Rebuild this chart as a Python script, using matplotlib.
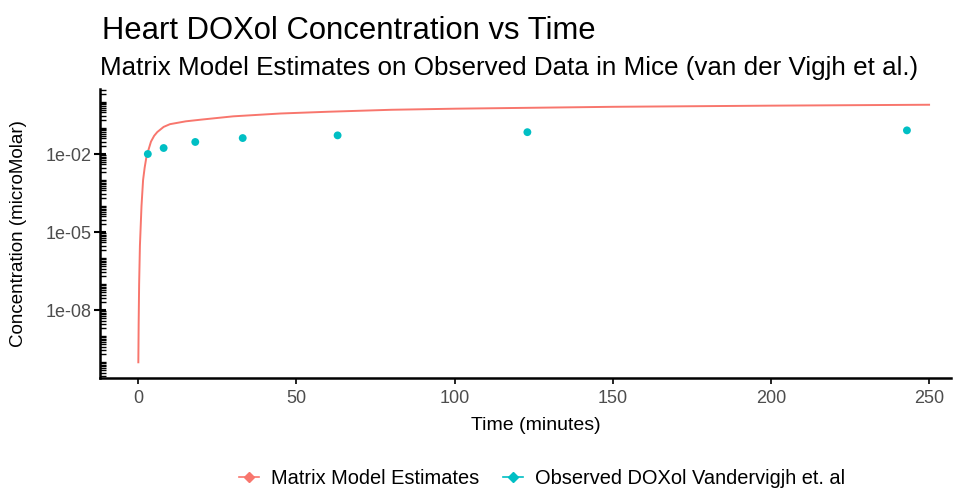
import numpy as np
import matplotlib
matplotlib.use("Agg")
import matplotlib.pyplot as plt
from matplotlib.lines import Line2D
from matplotlib.ticker import LogLocator, NullFormatter, FixedLocator, FuncFormatter

plt.rcParams['font.family'] = ['Liberation Sans', 'DejaVu Sans']

# model curve (Matrix Model Estimates)
model_t = [0, 0.1, 0.25, 0.5, 1, 1.5, 2, 2.5, 3, 4, 5, 6, 8, 10, 15, 20, 30, 45, 60, 80, 100, 150, 200, 250]
model_c = [1e-10, 3e-9, 1e-7, 3e-6, 1e-4, 1e-3, 3e-3, 7e-3, 0.012, 0.03, 0.05, 0.07, 0.11, 0.14,
           0.18, 0.21, 0.28, 0.36, 0.42, 0.5, 0.55, 0.65, 0.72, 0.78]

# observed data (Vandervigjh et al.)
obs_t = [3, 8, 18, 33, 63, 123, 243]
obs_c = [0.010, 0.017, 0.029, 0.041, 0.052, 0.069, 0.081]

red = '#F8766D'
cyan = '#00BFC4'

fig = plt.figure(figsize=(9.56, 4.94), dpi=100)
ax = fig.add_axes([0.105, 0.235, 0.89, 0.585])

ax.plot(model_t, model_c, color=red, lw=1.4, zorder=2)
ax.scatter(obs_t, obs_c, color=cyan, s=32, zorder=3, edgecolors='none')

ax.set_yscale('log')
ax.set_ylim(10**-10.6, 10**0.5)
ax.set_xlim(-12, 257)

ax.set_xticks([0, 50, 100, 150, 200, 250])
ax.yaxis.set_major_locator(FixedLocator([1e-8, 1e-5, 1e-2]))
ax.yaxis.set_major_formatter(FuncFormatter(
    lambda v, p: {1e-8: '1e-08', 1e-5: '1e-05', 1e-2: '1e-02'}.get(v, '')))
ax.yaxis.set_minor_locator(LogLocator(base=10, subs=np.arange(1, 10), numticks=100))
ax.yaxis.set_minor_formatter(NullFormatter())

for s in ['top', 'right']:
    ax.spines[s].set_visible(False)
for s in ['left', 'bottom']:
    ax.spines[s].set_linewidth(1.8)
    ax.spines[s].set_color('black')

ax.tick_params(axis='x', direction='out', length=4, width=1.2, colors='black',
               labelcolor='#4D4D4D', labelsize=13, pad=5)
ax.tick_params(axis='y', which='major', direction='inout', length=9, width=1.5,
               labelcolor='#4D4D4D', labelsize=13, pad=2)
ax.tick_params(axis='y', which='minor', direction='in', length=4, width=1.0)

ax.set_xlabel('Time (minutes)', fontsize=14, labelpad=5)
ax.xaxis.set_label_coords(0.512, -0.135)
ax.set_ylabel('Concentration (microMolar)', fontsize=13.5)
ax.yaxis.set_label_coords(-0.086, 0.5)

fig.text(0.107, 0.937, 'Heart DOXol Concentration vs Time', fontsize=22.3, ha='left', va='center')
fig.text(0.105, 0.862, 'Matrix Model Estimates on Observed Data in Mice (van der Vigjh et al.)',
         fontsize=18.7, ha='left', va='center')

handles = [Line2D([0], [0], color=red, marker='D', markersize=5, lw=1.2),
           Line2D([0], [0], color=cyan, marker='D', markersize=5, lw=1.2)]
fig.legend(handles, ['Matrix Model Estimates', 'Observed DOXol Vandervigjh et. al'],
           loc='center', bbox_to_anchor=(0.567, 0.032), ncol=2, frameon=False,
           fontsize=14.4, handlelength=1.0, columnspacing=1.2, handletextpad=0.6)

fig.savefig('out.png', dpi=100)
